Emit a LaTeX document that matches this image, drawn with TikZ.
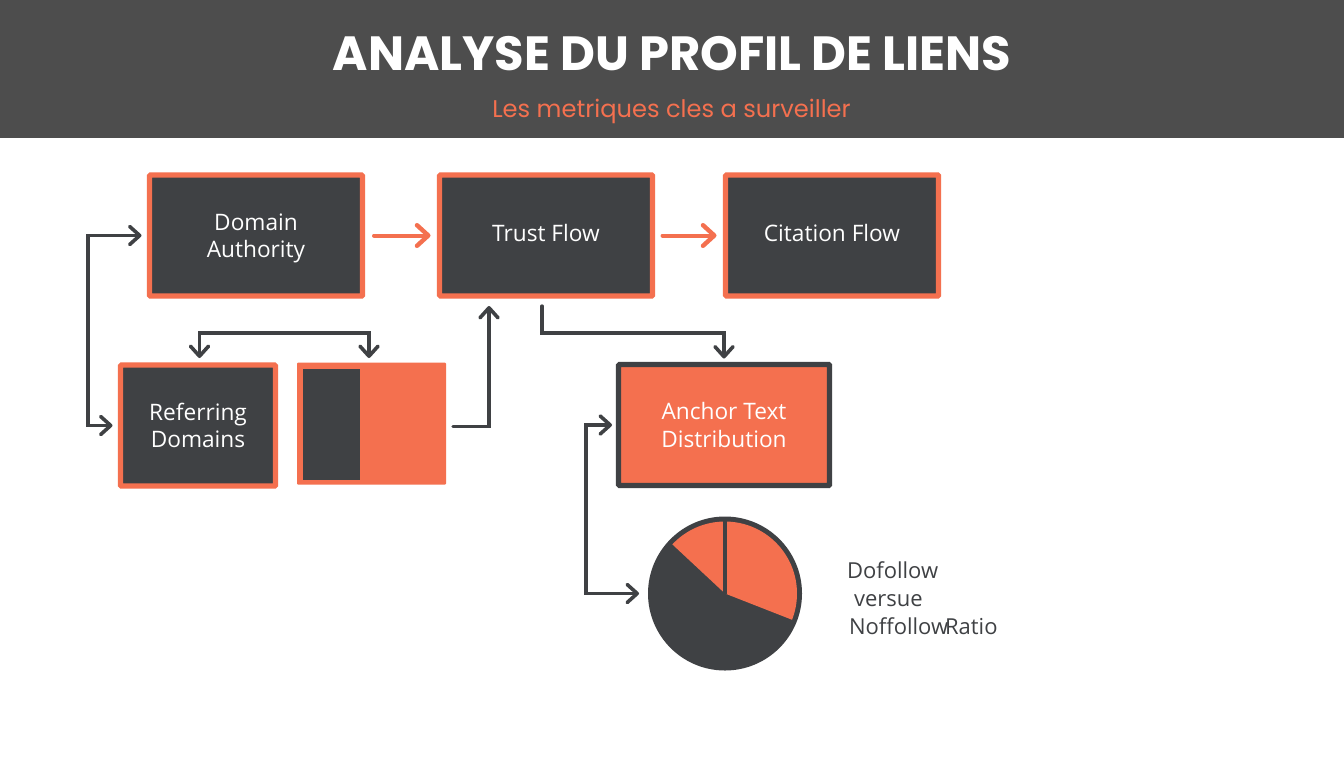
\documentclass[tikz,border=0pt]{standalone}
\usepackage{fontspec}
\usetikzlibrary{arrows.meta,calc}
\setmainfont{Open Sans}
\newfontfamily\titlefont{Poppins}
\definecolor{inkdark}{HTML}{3F4144}
\definecolor{coral}{HTML}{F4704F}
\definecolor{headbar}{HTML}{4D4D4D}
\newdimen\px \px=0.75pt
\tikzset{
  x=0.75pt,y=-0.75pt,
  every node/.style={inner sep=0pt,outer sep=0pt},
  darkbox/.style={draw=coral,fill=inkdark,line width=5.3\px,text=white,align=center,font=\fontsize{17}{20.3}\selectfont,rounded corners=1\px},
  darrow/.style={draw=inkdark,line width=3.3\px,line cap=round,{Straight Barb[length=7.5pt,width=13.5pt,line width=2.7pt,round]}-{Straight Barb[length=7.5pt,width=13.5pt,line width=2.7pt,round]}},
  onearrow/.style={draw=inkdark,line width=3.3\px,line cap=round,-{Straight Barb[length=7.5pt,width=13.5pt,line width=2.7pt,round]}},
  oarrow/.style={draw=coral,line width=4\px,line cap=round,-{Straight Barb[length=8.5pt,width=15.5pt,line width=3.3pt,round]}},
  sidetext/.style={anchor=base west,text=inkdark,font=\fontsize{16.5}{20}\selectfont}
}
\begin{document}
\begin{tikzpicture}
\useasboundingbox (0,0) rectangle (1344,768);
\fill[white] (0,0) rectangle (1344,768);
\fill[headbar] (0,0) rectangle (1344,138);
\node[text=white,font=\titlefont\bfseries\fontsize{36}{40}\selectfont] (title) at (672,54) {ANALYSE DU PROFIL DE LIENS};
\node[text=coral,font=\titlefont\fontsize{18.1}{22}\selectfont] (subtitle) at (671.5,111) {Les metriques cles a surveiller};

\node[darkbox,minimum width=213\px,minimum height=121\px] (da) at (256,235.5) {\rule{0pt}{17pt}Domain\\Authority};
\node[darkbox,minimum width=213\px,minimum height=121\px,text depth=4.5pt] (tf) at (546,235.5) {Trust Flow};
\node[darkbox,minimum width=213\px,minimum height=121\px,text depth=4.5pt] (cf) at (832,235.5) {Citation Flow};
\node[darkbox,minimum width=155\px,minimum height=121\px] (rd) at (198,425.5) {Referring\\Domains};
\node[fill=coral,minimum width=149\px,minimum height=122\px,rounded corners=1\px] (split) at (371.5,423.5) {};
\node[fill=inkdark,minimum width=57\px,minimum height=111\px] (splitin) at (331,424) {};
\node[darkbox,draw=inkdark,fill=coral,minimum width=211\px,minimum height=121\px] (at) at (724,425) {Anchor Text\\Distribution};

\node[circle,fill=inkdark,minimum size=154\px] (pie) at (725,593.5) {};
\fill[coral] (pie.center) -- ([shift={(90:72\px)}]pie.center) arc[start angle=90,end angle=-21.4,radius=72\px] -- cycle;
\fill[coral] (pie.center) -- ([shift={(137:72\px)}]pie.center) arc[start angle=137,end angle=90,radius=72\px] -- cycle;
\draw[inkdark,line width=4.7\px] (pie.center) -- (pie.north);

\node[sidetext] (t1) at (847,578) {Dofollow};
\node[sidetext] (t2) at (854,606) {versue};
\node[sidetext] (t3) at (849,634) {Noffollow\hspace{-0.4em} Ratio};

\coordinate (splitout) at (453,426.5);
\coordinate (tfin) at (489,306);
\coordinate (tfout) at (542,306);
\coordinate (rdtop) at (199.5,358);
\coordinate (splittop) at (369,358);

\draw[oarrow,shorten <=11.5\px,shorten >=9\px] (da.east) -- (tf.west);
\draw[oarrow,shorten <=10\px,shorten >=9\px] (tf.east) -- (cf.west);
\draw[darrow,shorten <=8\px,shorten >=8\px] (da.west) -- ++(-61.5,0) |- (rd.west);
\draw[darrow] (rdtop) -- ++(0,-25) -| (splittop);
\draw[onearrow] (splitout) -| (tfin);
\draw[onearrow,shorten >=6\px] (tfout) -- ++(0,27) -| (at.north);
\draw[darrow,shorten <=6.5\px,shorten >=9\px] (at.west) -- ++(-32.5,0) |- (pie.west);
\end{tikzpicture}
\end{document}
